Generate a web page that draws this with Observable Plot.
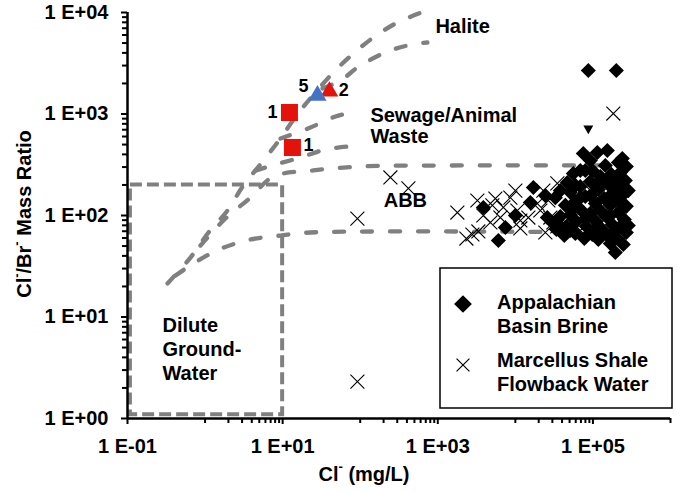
<!DOCTYPE html>
<html><head><meta charset="utf-8">
<script src="https://cdn.jsdelivr.net/npm/d3@7"></script>
<script src="https://cdn.jsdelivr.net/npm/@observablehq/plot@0.6"></script>
<style>
body{margin:0;background:#fff;}
#chart{position:relative;width:677px;height:492px;}
</style></head><body><div id="chart"></div>
<script>
// ---- Appalachian Basin Brine (Cl- mg/L, Cl/Br ratio)
const brineCl = [87230, 200300, 194400, 75200, 113900, 153300, 212600, 68800, 55920, 46800, 38010, 32780, 17060, 15610, 25850, 3869, 7432, 6038, 10000, 92570, 24360, 239300, 269400, 225600, 261600, 212600, 253900, 218900, 269400, 212600, 253900, 225600, 269400, 206300, 246500, 167600, 144500, 172600, 124600, 157900, 117400, 177800, 140300, 107400, 167600, 124600, 92570, 148800, 110600, 177800, 82210, 132200, 98240, 157900, 117400, 77480, 92570, 68800, 79830, 59330, 51160, 68800, 51160, 44100, 61120, 45430, 38010, 59330, 42800, 33770, 29990, 79830, 98240, 107400, 136200, 92570, 68800, 55920, 79830, 107400, 194400, 167600, 194400, 188700, 285800, 285800, 51160, 38010, 59330];
const brineRatio = [2683, 2683, 43.2, 408, 418, 437, 333, 278, 259, 211, 176, 150, 189, 134, 95.5, 120, 76.2, 56.7, 100, 348, 157, 364, 304, 265, 221, 193, 165, 140.5, 123, 107, 91.3, 77.9, 68, 59.3, 51.8, 53, 311, 254, 242, 202, 180, 165, 147, 131, 126, 112, 105, 97.7, 87.3, 81.5, 77.9, 72.8, 65, 62.1, 58, 59.3, 216, 193, 154, 137, 169, 115, 102, 126, 87.3, 77.9, 97.7, 66.5, 63.5, 72.8, 85.3, 278, 278, 197.6, 221, 157, 150, 117, 93.3, 74.5, 71.2, 100, 140.5, 231, 176, 79.7, 71.2, 77.9, 198];
const brineClippedCl = [87230];
const brineClippedRatio = [720];
// ---- Marcellus Shale Flowback Water
const flowCl = [245, 418, 92.0, 1788, 92.0, 7005, 2337, 2792, 3335, 3238, 3869, 4762, 5053, 5525, 6407, 7005, 8622, 10000, 10612, 11600, 14710, 19210, 21000, 22950, 26630, 28250, 30890, 34780, 34780, 41560, 44100, 55920, 101200, 183200, 24360, 68800, 124600, 11600];
const flowRatio = [237, 185, 93.3, 107, 2.31, 24.5, 59.3, 65, 69.6, 140.5, 100, 85.3, 126, 147, 95.5, 120, 150, 176, 112, 89.3, 95.5, 131, 112, 176, 140.5, 95.5, 85.3, 207, 77.9, 83.4, 74.5, 79.7, 165, 1011, 68, 71.2, 140.5, 74.5];
// ---- samples
const squareCl = [12.24, 13.37];
const squareRatio = [1035, 468];
const redTriCl = [40.1];
const redTriRatio = [1667];
const blueTriCl = [28.1];
const blueTriRatio = [1520];
const sampleLabels = ["1", "1", "5", "2"];
const sampleLabelCl = [7.39, 21.5, 18.54, 61.5];
const sampleLabelRatio = [1035, 490, 1866, 1706];
// ---- mixing curves
const halite1Cl = [0.328, 0.648, 1.106, 1.944, 3.124, 5.656, 9.37, 15.06, 26.5, 45.1, 81.7, 148, 301.6, 615];
const halite1Ratio = [21.4, 38.5, 68, 112, 198, 348, 574, 966, 1629, 2564, 3946, 5672, 7969, 10000];
const halite2Cl = [32.6, 55.6, 100.6, 245, 546, 735];
const halite2Ratio = [1783, 2138, 3006, 4224, 4950, 5064];
const sewage1Cl = [9.37, 22.8, 47.9, 68.4];
const sewage1Ratio = [574, 736, 945, 1011];
const sewage2Cl = [4.462, 8.08, 16.96, 35.6, 72.6];
const sewage2Ratio = [277, 318, 373, 447, 479];
const abb1Cl = [0.872, 1.832, 3.847, 7.61, 24.9, 100.6, 1453, 167600];
const abb1Ratio = [50.6, 93.4, 150, 242, 278, 304, 311, 311];
const abb2Cl = [0.416, 0.775, 1.627, 3.847, 9.37, 22.8, 206300];
const abb2Ratio = [25.6, 35.2, 47.3, 58, 63.5, 68, 68];
// ---- dilute groundwater box
const boxCl = [0.109, 10];
const boxRatio = [1.09, 200];
// ---- region labels
const regionLabels = ["Halite", "Sewage/Animal\nWaste", "Dilute\nGround-\nWater"];
const regionCl = [931, 135.3, 0.2825];
const regionRatio = [7450, 771, 4.9];
const abbLabel = ["ABB"];
const abbLabelCl = [382];
const abbLabelRatio = [140.5];
// ---- ticks
const xMajorTicks = [0.1, 10, 1000, 100000];
const xTickLabels = ["1 E-01", "1 E+01", "1 E+03", "1 E+05"];
const xMinorTicks = [1, 2, 3, 4, 5, 6, 7, 8, 9, 100, 200, 300, 400, 500, 600, 700, 800, 900, 10000, 20000, 30000, 40000, 50000, 60000, 70000, 80000, 90000, 1000000];
const yMajorTicks = [1, 10, 100, 1000, 10000];
const yTickLabels = ["1 E+00", "1 E+01", "1 E+02", "1 E+03", "1 E+04"];
const yMinorTicks = [2, 3, 4, 5, 6, 7, 8, 9, 20, 30, 40, 50, 60, 70, 80, 90, 200, 300, 400, 500, 600, 700, 800, 900, 2000, 3000, 4000, 5000, 6000, 7000, 8000, 9000];
const legendLabels = [["Appalachian", "Basin Brine"], ["Marcellus Shale", "Flowback Water"]];

const pts = (xs, ys, extra) => xs.map((c, i) => ({cl: c, ratio: ys[i], label: extra ? extra[i] : undefined}));
const brine = pts(brineCl, brineRatio);
const brineClipped = pts(brineClippedCl, brineClippedRatio);
const flow = pts(flowCl, flowRatio);
const squares = pts(squareCl, squareRatio);
const redTri = pts(redTriCl, redTriRatio);
const blueTri = pts(blueTriCl, blueTriRatio);
const sampleText = pts(sampleLabelCl, sampleLabelRatio, sampleLabels);
const regionText = pts(regionCl, regionRatio, regionLabels);
const abbText = pts(abbLabelCl, abbLabelRatio, abbLabel);
const curves = [
  pts(halite1Cl, halite1Ratio), pts(halite2Cl, halite2Ratio),
  pts(sewage1Cl, sewage1Ratio), pts(sewage2Cl, sewage2Ratio),
  pts(abb1Cl, abb1Ratio), pts(abb2Cl, abb2Ratio)
];
const box = [{x1: boxCl[0], x2: boxCl[1], y1: boxRatio[0], y2: boxRatio[1]}];
const xLab = new Map(xMajorTicks.map((t, i) => [t, xTickLabels[i]]));
const yLab = new Map(yMajorTicks.map((t, i) => [t, yTickLabels[i]]));

const RED = "#e3120b", BLUE = "#4472c4", GRAY = "#808080";
const curveStyle = {x: "cl", y: "ratio", stroke: GRAY, strokeWidth: 4.3, strokeDasharray: "10,18", strokeLinecap: "round", curve: "catmull-rom"};

const plot = Plot.plot({
  width: 677, height: 492,
  marginLeft: 127, marginRight: 7, marginTop: 12, marginBottom: 74,
  x: {type: "log", domain: [0.1, 1e6], label: null},
  y: {type: "log", domain: [1, 1e4], label: null},
  style: {fontFamily: "'Liberation Sans', Arial, sans-serif", fontSize: "20px", fontWeight: "bold", color: "black", background: "white", overflow: "visible"},
  marks: [
    Plot.rect(box, {x1: "x1", x2: "x2", y1: "y1", y2: "y2", fill: "none", stroke: GRAY, strokeWidth: 4, strokeDasharray: "12,5"}),
    ...curves.map(c => Plot.line(c, curveStyle)),
    Plot.dot(brine, {x: "cl", y: "ratio", symbol: "diamond2", r: 6.8, fill: "black", stroke: "none"}),
    Plot.dot(brineClipped, {x: "cl", y: "ratio", symbol: "triangle", rotate: 180, r: 3.7, fill: "black", stroke: "none"}),
    Plot.dot(flow, {x: "cl", y: "ratio", symbol: "times", r: 6.4, stroke: "black", strokeWidth: 1.1}),
    Plot.dot(squares, {x: "cl", y: "ratio", symbol: "square", r: 9.6, fill: RED, stroke: "none"}),
    Plot.dot(redTri, {x: "cl", y: "ratio", symbol: "triangle", r: 6.6, fill: RED, stroke: "none"}),
    Plot.dot(blueTri, {x: "cl", y: "ratio", symbol: "triangle", r: 6.8, fill: BLUE, stroke: "none"}),
    Plot.text(sampleText, {x: "cl", y: "ratio", text: "label", fontSize: 18, fill: "black"}),
    Plot.text(regionText.slice(0, 2), {x: "cl", y: "ratio", text: "label", textAnchor: "start", lineAnchor: "middle", lineHeight: 1.1, fill: "black"}),
    Plot.text(regionText.slice(2), {x: "cl", y: "ratio", text: "label", textAnchor: "start", lineAnchor: "middle", lineHeight: 1.2, fill: "black"}),
    Plot.text(abbText, {x: "cl", y: "ratio", text: "label", textAnchor: "middle", fill: "black"}),
    Plot.axisX({ticks: xMajorTicks, tickFormat: d => xLab.get(d), tickSize: 6, tickPadding: 14, strokeWidth: 2, label: null}),
    Plot.axisX({ticks: xMinorTicks, tickFormat: () => "", tickSize: 5, strokeWidth: 2, label: null}),
    Plot.axisY({ticks: yMajorTicks, tickFormat: d => yLab.get(d), tickSize: 6, tickPadding: 13, strokeWidth: 2, label: null}),
    Plot.axisY({ticks: yMinorTicks, tickFormat: () => "", tickSize: 5, strokeWidth: 2, label: null}),
    Plot.ruleX([0.1], {stroke: "black", strokeWidth: 2.5}),
    Plot.ruleY([1], {stroke: "black", strokeWidth: 2.5})
  ]
});

const svg = d3.select(plot);
// axis titles
const yt = svg.append("text").attr("transform", "translate(24,214) rotate(-90)")
  .attr("text-anchor", "middle").attr("dominant-baseline", "central")
  .attr("font-size", "20px").attr("font-weight", "bold").attr("fill", "black");
yt.append("tspan").text("Cl");
yt.append("tspan").attr("font-size", "13px").attr("dy", "-8").text("-");
yt.append("tspan").attr("dy", "8").text("/Br");
yt.append("tspan").attr("font-size", "13px").attr("dy", "-8").text("-");
yt.append("tspan").attr("dy", "8").text(" Mass Ratio");
const xt = svg.append("text").attr("transform", "translate(364,474)")
  .attr("text-anchor", "middle").attr("dominant-baseline", "central")
  .attr("font-size", "20px").attr("font-weight", "bold").attr("fill", "black");
xt.append("tspan").text("Cl");
xt.append("tspan").attr("font-size", "13px").attr("dy", "-8").text("-");
xt.append("tspan").attr("dy", "8").text(" (mg/L)");
// legend
const lg = svg.append("g");
lg.append("rect").attr("x", 440).attr("y", 268).attr("width", 232).attr("height", 140)
  .attr("fill", "white").attr("stroke", "black").attr("stroke-width", 1.5);
lg.append("path").attr("transform", "translate(463,304)").attr("d", d3.symbol(d3.symbolDiamond2, 200)()).attr("fill", "black");
lg.append("path").attr("transform", "translate(463,365)").attr("d", d3.symbol(d3.symbolTimes, 110)())
  .attr("fill", "none").attr("stroke", "black").attr("stroke-width", 1.2);
const lgY = [[302, 326], [360, 384]];
legendLabels.forEach((lines, i) => lines.forEach((t, j) => {
  lg.append("text").attr("x", 497).attr("y", lgY[i][j]).attr("dominant-baseline", "central")
    .attr("text-anchor", "start")
    .attr("font-size", "20px").attr("font-weight", "bold").attr("fill", "black").text(t);
}));

document.getElementById("chart").appendChild(plot);
</script>
</body></html>
